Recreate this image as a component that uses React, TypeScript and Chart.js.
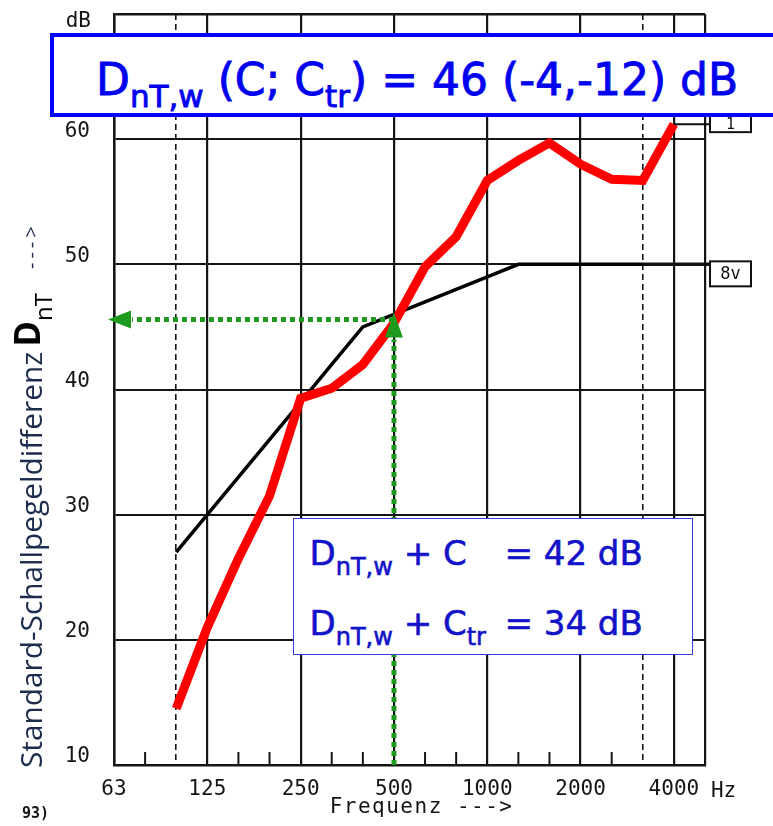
import React, { useEffect, useRef } from 'react';
import { Chart, registerables } from 'chart.js';

Chart.register(...registerables);

// ---------- data ----------
const thirdOctaveLabels = ['63', '80', '100', '125', '160', '200', '250', '315', '400', '500', '630', '800', '1000', '1250', '1600', '2000', '2500', '3150', '4000', '5000'];
const octaveLabels = ['63', '125', '250', '500', '1000', '2000', '4000', '5000'];
const rangeLimitLabels = ['100', '3150'];
const yTickValues = [10, 20, 30, 40, 50, 60, 70];

const measuredFreqs = ['100', '125', '160', '200', '250', '315', '400', '500', '630', '800', '1000', '1250', '1600', '2000', '2500', '3150', '4000'];
const measuredValues = [14.5, 21, 26.5, 31.5, 39.3, 40.1, 42, 45.3, 49.8, 52.2, 56.7, 58.3, 59.7, 58, 56.8, 56.7, 61.2];

const referenceFreqs = ['100', '125', '160', '200', '250', '315', '400', '500', '630', '800', '1000', '1250', '1600', '2000', '2500', '3150'];
const referenceValues = [27, 30, 33, 36, 39, 42, 45, 46, 47, 48, 49, 50, 50, 50, 50, 50];

const readoutFreq = '500';
const readoutLevel = 45.6;
const curveTags = ['1', '8v'];

const yTitleText = 'Standard-Schallpegeldifferenz';
const xTitleText = 'Frequenz --->';
const unitX = 'Hz';
const unitY = 'dB';
const pageNote = '93)';

const idx = (f: string) => thirdOctaveLabels.indexOf(f);
const isOct = (v: number) => octaveLabels.includes(thirdOctaveLabels[v]);
const isDash = (v: number) => rangeLimitLabels.includes(thirdOctaveLabels[v]);

const tickFont = { family: '"DejaVu Sans Mono", monospace', size: 21 };
const inkColor = '#151515';
const green = '#1d9a1d';

const decorPlugin = {
  id: 'decor',
  beforeDatasetsDraw(chart: any) {
    const { ctx, chartArea, scales } = chart;
    const x = scales.x;
    ctx.save();
    ctx.strokeStyle = inkColor;
    ctx.lineWidth = 2;
    thirdOctaveLabels.forEach((_, i) => {
      if (isOct(i) || isDash(i)) return;
      const px = x.getPixelForValue(i);
      ctx.beginPath();
      ctx.moveTo(px, chartArea.bottom);
      ctx.lineTo(px, chartArea.bottom - 13);
      ctx.stroke();
    });
    ctx.restore();
  },
  afterDatasetsDraw(chart: any) {
    const { ctx, chartArea, scales } = chart;
    const x = scales.x;
    const y = scales.y;
    const px = x.getPixelForValue(idx(readoutFreq));
    const py = y.getPixelForValue(readoutLevel);
    ctx.save();
    // green dotted readout lines
    ctx.strokeStyle = green;
    ctx.fillStyle = green;
    ctx.lineWidth = 5;
    ctx.setLineDash([5, 4]);
    ctx.beginPath();
    ctx.moveTo(px, chartArea.bottom);
    ctx.lineTo(px, py + 20);
    ctx.stroke();
    ctx.beginPath();
    ctx.moveTo(px, py);
    ctx.lineTo(chartArea.left + 18, py);
    ctx.stroke();
    ctx.setLineDash([]);
    // arrow heads
    ctx.beginPath();
    ctx.moveTo(px, py - 7);
    ctx.lineTo(px - 9, py + 18);
    ctx.lineTo(px + 9, py + 18);
    ctx.closePath();
    ctx.fill();
    ctx.beginPath();
    ctx.moveTo(chartArea.left - 6, py);
    ctx.lineTo(chartArea.left + 17, py - 9);
    ctx.lineTo(chartArea.left + 17, py + 9);
    ctx.closePath();
    ctx.fill();

    // tags at the right side
    const redEnd = measuredValues[measuredValues.length - 1];
    const redPx = x.getPixelForValue(idx(measuredFreqs[measuredFreqs.length - 1]));
    const refEnd = referenceValues[referenceValues.length - 1];
    const refPx = x.getPixelForValue(idx(referenceFreqs[referenceFreqs.length - 1]));
    const boxL = chartArea.right + 5;
    const boxW = 41;
    ctx.strokeStyle = '#111';
    ctx.lineWidth = 2;
    const ry = y.getPixelForValue(redEnd);
    ctx.beginPath();
    ctx.moveTo(redPx, ry);
    ctx.lineTo(boxL, ry);
    ctx.stroke();
    ctx.fillStyle = '#fff';
    ctx.fillRect(boxL, ry - 10, boxW, 18);
    ctx.strokeRect(boxL, ry - 10, boxW, 18);
    const by = y.getPixelForValue(refEnd);
    ctx.lineWidth = 3.5;
    ctx.beginPath();
    ctx.moveTo(refPx, by);
    ctx.lineTo(boxL, by);
    ctx.stroke();
    ctx.lineWidth = 2;
    ctx.fillRect(boxL, by - 3, boxW, 25);
    ctx.strokeRect(boxL, by - 3, boxW, 25);
    ctx.fillStyle = '#111';
    ctx.textAlign = 'center';
    ctx.textBaseline = 'alphabetic';
    ctx.font = '15px "DejaVu Sans Mono", monospace';
    ctx.fillText(curveTags[0], boxL + boxW / 2, ry + 5);
    ctx.font = '17px "DejaVu Sans Mono", monospace';
    ctx.fillText(curveTags[1], boxL + boxW / 2, by + 15);
    ctx.restore();
  },
  afterDraw(chart: any) {
    const { ctx, chartArea, scales } = chart;
    const x = scales.x;
    ctx.save();
    ctx.fillStyle = inkColor;
    ctx.textBaseline = 'alphabetic';
    ctx.font = '21px "DejaVu Sans Mono", monospace';
    // unit labels
    ctx.textAlign = 'left';
    ctx.fillText(unitX, x.getPixelForValue(idx('4000')) + 37, chartArea.bottom + 32);
    ctx.textAlign = 'right';
    ctx.fillText(unitY, chartArea.left - 23, chartArea.top + 13);
    // x title
    ctx.textAlign = 'left';
    ctx.font = '21px "DejaVu Sans Mono", monospace';
    (ctx as any).letterSpacing = '1.5px';
    ctx.fillText(xTitleText, x.getPixelForValue(idx('250')) + 29, chartArea.bottom + 48);
    (ctx as any).letterSpacing = '0px';
    ctx.font = 'bold 15px "DejaVu Sans Mono", monospace';
    ctx.fillText(pageNote, 22, chartArea.bottom + 53);

    // y title (rotated)
    ctx.translate(42, chartArea.bottom + 3);
    ctx.rotate(-Math.PI / 2);
    ctx.textAlign = 'left';
    ctx.fillStyle = '#1c2c4c';
    ctx.font = '25px "Open Sans"';
    const w0 = ctx.measureText(yTitleText).width;
    const size = 25 * 416 / w0;
    ctx.font = `${size.toFixed(1)}px "Open Sans"`;
    ctx.fillText(yTitleText, 0, 0);
    let adv = ctx.measureText(yTitleText).width + 5;
    ctx.fillStyle = '#000';
    ctx.font = 'bold 35px "Open Sans"';
    ctx.fillText('D', adv, -2);
    adv += ctx.measureText('D').width;
    ctx.font = '24px "Open Sans"';
    ctx.fillText('nT', adv, 10);
    adv += ctx.measureText('nT').width + 24;
    ctx.fillStyle = '#1c2c4c';
    ctx.font = '20px "Open Sans"';
    (ctx as any).letterSpacing = '4px';
    ctx.fillText('--->', adv, -4);
    ctx.restore();
  },
};

export default function App() {
  const ref = useRef<HTMLCanvasElement | null>(null);

  useEffect(() => {
    if (!ref.current) return;
    const chart = new Chart(ref.current, {
      type: 'line',
      data: {
        datasets: [
          {
            label: 'measured',
            data: measuredFreqs.map((f, i) => ({ x: idx(f), y: measuredValues[i] })),
            borderColor: '#ff0000',
            borderWidth: 9,
            pointRadius: 0,
            borderCapStyle: 'butt',
            borderJoinStyle: 'miter',
            tension: 0,
          },
          {
            label: 'reference',
            data: referenceFreqs.map((f, i) => ({ x: idx(f), y: referenceValues[i] })),
            borderColor: '#000000',
            borderWidth: 3.5,
            pointRadius: 0,
            tension: 0,
          },
        ],
      },
      options: {
        responsive: false,
        animation: false,
        devicePixelRatio: 1,
        layout: { padding: { top: 14, right: 68, left: 0, bottom: 0 } },
        plugins: { legend: { display: false }, tooltip: { enabled: false } },
        scales: {
          x: {
            type: 'linear',
            min: 0,
            max: thirdOctaveLabels.length - 1,
            afterFit: (s: any) => { s.height = 61; s.paddingLeft = 0; s.paddingRight = 0; },
            ticks: {
              stepSize: 1,
              autoSkip: false,
              maxRotation: 0,
              padding: 12,
              color: inkColor,
              font: tickFont,
              callback: (v: any) => {
                const l = thirdOctaveLabels[v];
                return l && isOct(v) && l !== '5000' ? l : '';
              },
            },
            grid: {
              drawTicks: false,
              color: (c: any) => {
                const v = c.tick?.value;
                if (v === undefined) return inkColor;
                return isOct(v) || isDash(v) ? inkColor : 'rgba(0,0,0,0)';
              },
              lineWidth: (c: any) => {
                const v = c.tick?.value;
                if (v === undefined) return 2;
                if (isOct(v)) return 2.2;
                if (isDash(v)) return 1.6;
                return 0;
              },
            },
            border: {
              display: true,
              color: inkColor,
              width: 2.5,
              dash: (c: any) => (c.tick && isDash(c.tick.value) ? [6, 4] : []),
            },
          },
          y: {
            type: 'linear',
            min: yTickValues[0],
            max: yTickValues[yTickValues.length - 1],
            afterFit: (s: any) => { s.width = 114; s.paddingTop = 0; s.paddingBottom = 0; },
            ticks: {
              stepSize: 10,
              padding: 24,
              labelOffset: -8,
              color: inkColor,
              font: tickFont,
              callback: (v: any) => (v === yTickValues[yTickValues.length - 1] ? '' : String(v)),
            },
            grid: {
              drawTicks: false,
              color: inkColor,
              lineWidth: (c: any) => (c.tick?.value === yTickValues[yTickValues.length - 1] ? 2.5 : 2),
            },
            border: { display: true, color: inkColor, width: 2.5 },
          },
        },
      },
      plugins: [decorPlugin],
    } as any);
    return () => chart.destroy();
  }, []);

  const subMain: React.CSSProperties = { position: 'relative', top: 12, fontSize: 31 };
  const subRes: React.CSSProperties = { position: 'relative', top: 10, fontSize: 24 };

  return (
    <div style={{ position: 'fixed', left: 0, top: 0, width: 773, height: 826, overflow: 'hidden', background: '#fff' }}>
      <canvas ref={ref} width={773} height={826} style={{ position: 'absolute', left: 0, top: 0, width: 773, height: 826 }} />
      <div style={{ position: 'absolute', left: 50, top: 33, width: 760, height: 84, border: '4px solid #0000ff', boxSizing: 'border-box', background: '#fff' }}>
        <div style={{ position: 'absolute', left: 42, top: 20.8, whiteSpace: 'nowrap', fontFamily: '"DejaVu Sans"', fontSize: 44, lineHeight: '44px', color: '#0000f0', WebkitTextStroke: '0.9px #0000f0' }}>
          D<span style={subMain}>nT,w</span> (C; C<span style={subMain}>tr</span>) = 46 (-4,-12) dB
        </div>
      </div>
      <div style={{ position: 'absolute', left: 293, top: 518, width: 400, height: 137, border: '1.5px solid #3c3cdc', boxSizing: 'border-box', background: '#fff', color: '#1212c8', fontFamily: '"DejaVu Sans"', fontSize: 34, lineHeight: '34px', whiteSpace: 'nowrap', WebkitTextStroke: '0.6px #1212c8' }}>
        <div style={{ position: 'absolute', left: 15.5, top: 16.75 }}>
          <span style={{ display: 'inline-block', width: 195 }}>D<span style={subRes}>nT,w</span> + C</span>= 42 dB
        </div>
        <div style={{ position: 'absolute', left: 15.5, top: 86.75 }}>
          <span style={{ display: 'inline-block', width: 195 }}>D<span style={subRes}>nT,w</span> + C<span style={subRes}>tr</span></span>= 34 dB
        </div>
      </div>
    </div>
  );
}
